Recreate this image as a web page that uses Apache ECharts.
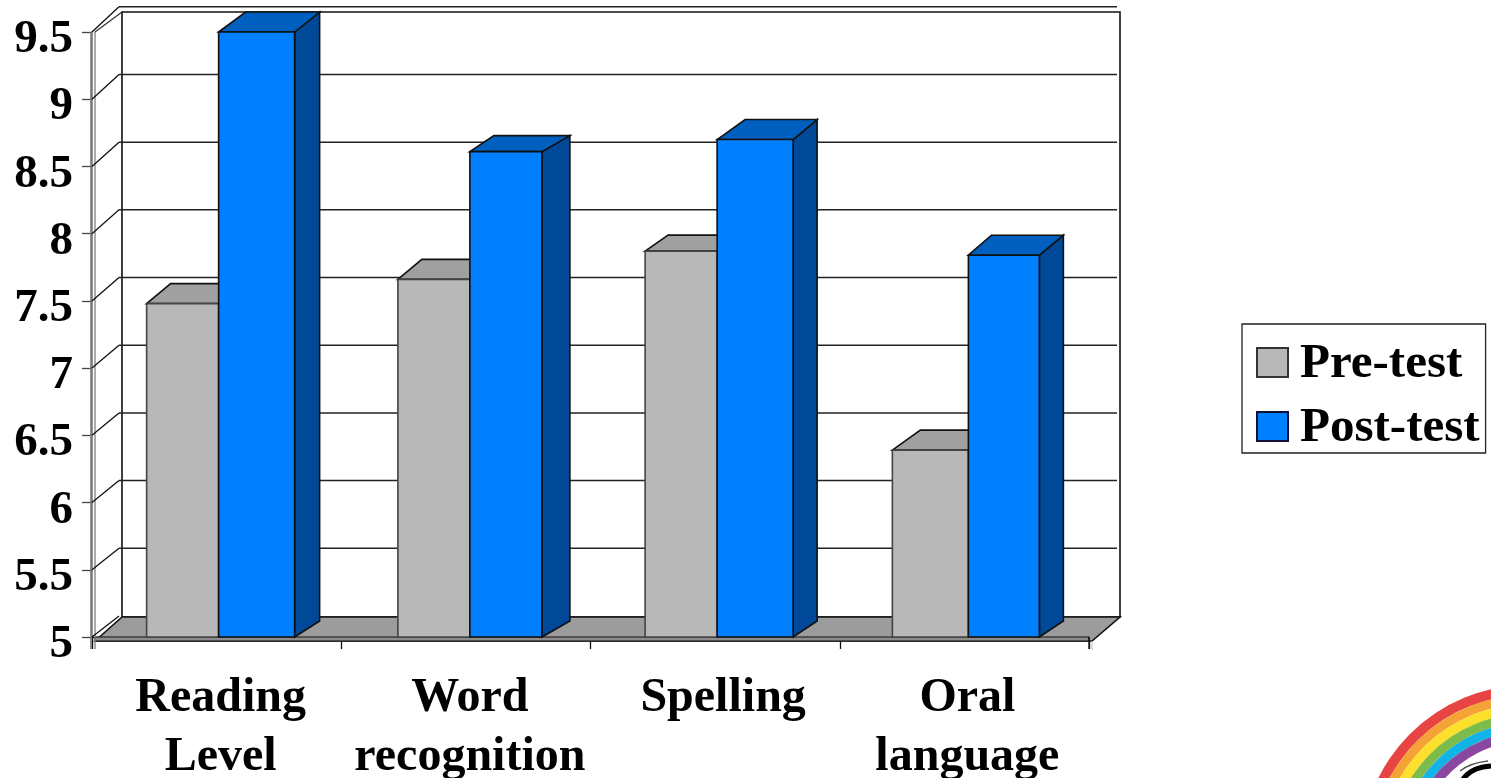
<!DOCTYPE html>
<html>
<head>
<meta charset="utf-8">
<title>Pre-test and post-test scores</title>
<script src="https://cdn.jsdelivr.net/npm/echarts@6/dist/echarts.min.js"></script>
<style>
  html, body { margin: 0; padding: 0; background: #fff; }
  #chart { width: 1491px; height: 778px; }
</style>
</head>
<body>
<div id="chart"></div>
<script>
// Scores by skill area
const categories = ['Reading\nLevel', 'Word\nrecognition', 'Spelling', 'Oral\nlanguage'];
const preTest = [7.48, 7.66, 7.87, 6.39];
const postTest = [9.5, 8.61, 8.7, 7.84];
const axisMin = 5;
const axisMax = 9.5;
const axisStep = 0.5;
const gridValues = [5, 5.5, 6, 6.5, 7, 7.5, 8, 8.5, 9, 9.5];

// Horizontal bar edges relative to each category centre
const preLeft = [-70, -68, -70, -72];
const barSplit = [2, 4, 2, 4];
const postRight = [78, 76, 78, 75];
// Receding faces of the pseudo-3D boxes
const preRise = [20, 20, 16, 20];
const postRise = [20, 16, 20, 20];
const preDepth = [24, 24, 23, 28];
const postDepthLeft = [27, 24, 28, 23];
const postDepthRight = [25, 28, 24, 24];
const labelShift = [8, 8, 16, 6];

const font = '"Liberation Serif", "Times New Roman", serif';
const ink = '#111';

function poly(points, fill, stroke, lineWidth) {
  return {
    type: 'polygon',
    shape: { points },
    style: { fill, stroke: stroke || 'none', lineWidth: lineWidth === undefined ? 1.6 : lineWidth }
  };
}
function seg(x1, y1, x2, y2, stroke, lineWidth) {
  return {
    type: 'line',
    shape: { x1, y1, x2, y2 },
    style: { stroke, lineWidth: lineWidth || 1.3, fill: 'none' }
  };
}

// Back wall, floor and the receding gridlines of the chart box
function renderFrame(params, api) {
  const cs = params.coordSys;
  const front = cs.x, right = cs.x + cs.width, base = cs.y + cs.height;
  const backLeft = front + 30, backRight = right + 31, floorY = base - 20;
  const children = [];
  if (params.dataIndex === 0) {
    children.push(poly([[backLeft, cs.y - 20], [backRight, cs.y - 20], [backRight, floorY], [backLeft, floorY]], '#fff', ink));
    children.push(poly([[front + 3, base + 4], [backLeft, floorY], [backRight, floorY], [right + 3, base + 4]], '#9c9c9c', ink));
    children.push(poly([[front + 3, base], [right, base], [right, base + 4], [front + 3, base + 4]], '#8c8c8c', ink, 1.2));
    children.push(seg(front - 1, base + 12, front - 1, cs.y, '#777', 1.6));
    children.push(seg(front + 3, base + 12, front + 3, cs.y, '#888', 1.4));
    children.push(seg(right + 3, base + 4, right + 3, base + 13, '#bbb', 1));
    children.push(seg(right, base, right, base + 12, ink, 1.3));
    children.push(seg(front + 3, cs.y, backLeft, cs.y - 20, '#333', 1.2));
  }
  const y = api.coord([0, api.value(1)])[1];
  const backY = floorY - 1 + (y - base) * 1.007;
  children.push(seg(front, y, front + 27, backY, ink, 1.3));
  if (params.dataIndex > 0) {
    children.push(seg(front + 27, backY, right + 28, backY, '#222', 1.5));
  }
  return { type: 'group', children };
}

function renderPre(params, api) {
  const i = api.value(0);
  const p = api.coord([i, api.value(1)]);
  const b = api.coord([i, axisMin]);
  const l = p[0] + preLeft[i], r = p[0] + barSplit[i];
  const color = api.visual('color');
  return {
    type: 'group',
    children: [
      poly([[l, p[1]], [l + preDepth[i], p[1] - preRise[i]], [r + preDepth[i], p[1] - preRise[i]], [r, p[1]]], '#a0a0a0', ink),
      poly([[l, p[1]], [r, p[1]], [r, b[1]], [l, b[1]]], color, '#444')
    ]
  };
}

function renderPost(params, api) {
  const i = api.value(0);
  const p = api.coord([i, api.value(1)]);
  const b = api.coord([i, axisMin]);
  const l = p[0] + barSplit[i], r = p[0] + postRight[i];
  const color = api.visual('color');
  const rise = postRise[i], dl = postDepthLeft[i], dr = postDepthRight[i];
  return {
    type: 'group',
    children: [
      poly([[r, p[1]], [r + dr, p[1] - rise], [r + dr, b[1] - 16], [r, b[1]]], '#004898', ink),
      poly([[l, p[1]], [l + dl, p[1] - rise], [r + dr, p[1] - rise], [r, p[1]]], '#0060c0', ink),
      poly([[l, p[1]], [r, p[1]], [r, b[1]], [l, b[1]]], color, ink)
    ]
  };
}

const option = {
  animation: false,
  backgroundColor: '#fff',
  grid: { left: 92, top: 32, width: 997, height: 605, containLabel: false, outerBoundsMode: 'none' },
  xAxis: {
    type: 'category',
    data: categories.map((value, i) => ({ value, textStyle: { padding: [0, 0, 0, labelShift[i]] } })),
    axisLine: { show: true, lineStyle: { color: ink, width: 1.3 } },
    axisTick: { show: true, alignWithLabel: false, length: 12, lineStyle: { color: ink, width: 1.3 } },
    axisLabel: {
      interval: 0,
      margin: 32,
      color: '#000',
      fontFamily: font,
      fontWeight: 'bold',
      fontSize: 48,
      lineHeight: 59
    }
  },
  yAxis: {
    type: 'value',
    min: axisMin,
    max: axisMax,
    interval: axisStep,
    splitLine: { show: false },
    axisLine: { show: true, onZero: false, lineStyle: { color: '#777', width: 1.6 } },
    axisTick: { show: true, length: 10, lineStyle: { color: '#444', width: 1.3 } },
    axisLabel: {
      margin: 19,
      formatter: (v) => '{v|' + v + '}',
      rich: {
        v: {
          color: '#000',
          fontFamily: font,
          fontWeight: 'bold',
          fontSize: 47,
          padding: [16, 0, 0, 0]
        }
      }
    }
  },
  legend: {
    data: ['Pre-test', 'Post-test'],
    left: 1242,
    top: 324,
    orient: 'vertical',
    icon: 'rect',
    itemWidth: 31,
    itemHeight: 29,
    itemGap: 11,
    padding: [12, 6, 0, 14],
    backgroundColor: '#fff',
    borderColor: '#222',
    borderWidth: 1.3,
    selectedMode: false,
    formatter: (name) => '{t|' + name + '}',
    textStyle: {
      rich: {
        t: {
          color: '#000',
          fontFamily: font,
          fontWeight: 'bold',
          fontSize: 49,
          lineHeight: 43,
          padding: [4, 0, 0, 7]
        }
      }
    }
  },
  series: [
    {
      name: 'frame',
      type: 'custom',
      renderItem: renderFrame,
      data: gridValues.map((v) => [0, v]),
      encode: { x: 0, y: 1 },
      clip: false,
      silent: true,
      z: 3
    },
    {
      name: 'Pre-test',
      type: 'custom',
      renderItem: renderPre,
      data: preTest.map((v, i) => [i, v]),
      encode: { x: 0, y: 1 },
      clip: false,
      itemStyle: { color: '#b8b8b8', borderColor: '#333', borderWidth: 1.5 },
      z: 4
    },
    {
      name: 'Post-test',
      type: 'custom',
      renderItem: renderPost,
      data: postTest.map((v, i) => [i, v]),
      encode: { x: 0, y: 1 },
      clip: false,
      itemStyle: { color: '#0080ff', borderColor: '#113', borderWidth: 1.5 },
      z: 5
    }
  ],
  // Rainbow emblem in the lower right corner
  graphic: [
    { color: '#e94444', r: 167, r0: 157 },
    { color: '#f5a236', r: 157, r0: 148 },
    { color: '#fce02c', r: 148, r0: 138.5 },
    { color: '#7dbb4a', r: 138.5, r0: 129.5 },
    { color: '#12b4e8', r: 129.5, r0: 120.5 },
    { color: '#8a479f', r: 120.5, r0: 111 }
  ].map((band) => ({
    type: 'sector',
    silent: true,
    shape: { cx: 1528, cy: 852, r: band.r, r0: band.r0, startAngle: Math.PI, endAngle: Math.PI * 1.6 },
    style: { fill: band.color }
  })).concat([
    {
      type: 'bezierCurve',
      silent: true,
      shape: { x1: 1463, y1: 779, cpx1: 1472, cpy1: 767, x2: 1491, y2: 766 },
      style: { stroke: '#000', lineWidth: 5, fill: 'none' }
    },
    {
      type: 'bezierCurve',
      silent: true,
      shape: { x1: 1460, y1: 771, cpx1: 1470, cpy1: 763, x2: 1488, y2: 761 },
      style: { stroke: '#555', lineWidth: 1.5, fill: 'none' }
    }
  ])
};

const chart = echarts.init(document.getElementById('chart'), null, { renderer: 'canvas' });
chart.setOption(option);
</script>
</body>
</html>
